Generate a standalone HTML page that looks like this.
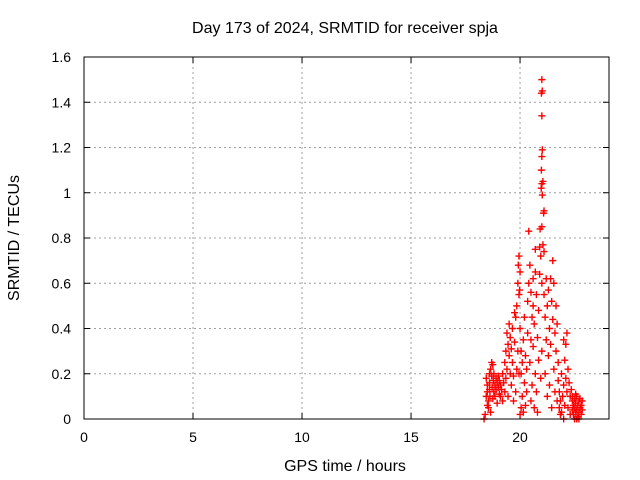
<!DOCTYPE html>
<html><head><meta charset="utf-8"><style>
body{margin:0;background:#fff}
svg{display:block;font-family:"Liberation Sans",sans-serif}
</style></head><body>
<svg id="chart" width="640" height="480" viewBox="0 0 640 480" xmlns="http://www.w3.org/2000/svg">
<rect width="640" height="480" fill="#fff"/>
<text x="345" y="33" font-size="16" text-anchor="middle">Day 173 of 2024, SRMTID for receiver spja</text>
<text transform="translate(19,238) rotate(-90)" font-size="16" text-anchor="middle">SRMTID / TECUs</text>
<text x="345" y="471" font-size="16" text-anchor="middle">GPS time / hours</text>
<g id="grid"></g>
<g id="ticks"></g>
<g id="points"></g>
<rect x="84" y="57" width="525" height="362" fill="none" stroke="#000" stroke-width="1"/>
</svg>
<script>
const xTicks=[0,5,10,15,20];
const yTicks=[0,0.2,0.4,0.6,0.8,1,1.2,1.4,1.6];
const yTickLabels=["0","0.2","0.4","0.6","0.8","1","1.2","1.4","1.6"];
const hours=[18.35,18.4,18.45,18.5,18.5,18.55,18.55,18.6,18.6,18.62,18.65,18.65,18.7,18.7,18.72,18.75,18.78,18.8,18.8,18.85,18.85,18.9,18.9,18.95,19.0,19.0,19.05,19.05,19.1,19.1,19.15,19.2,19.2,18.45,18.5,18.6,18.75,18.95,19.25,19.3,
19.3,19.35,19.35,19.4,19.4,19.45,19.45,19.5,19.5,19.55,19.55,19.6,19.6,19.65,19.65,19.7,19.7,19.75,19.75,19.8,19.8,19.85,19.85,
19.9,19.92,19.95,19.95,19.98,20.0,20.0,20.05,20.05,20.1,20.1,20.15,20.15,20.2,20.2,20.25,20.25,20.3,20.3,20.35,20.0,20.05,19.95,19.9,
20.35,20.4,20.4,20.45,20.45,20.5,20.5,20.55,20.55,20.6,20.6,20.65,20.65,20.7,20.7,20.75,20.75,20.8,20.8,20.85,20.85,20.9,20.9,20.95,20.95,21.0,21.0,20.7,20.6,20.5,
20.92,21.0,20.97,21.0,21.02,20.98,21.05,21.08,21.1,21.0,21.02,21.0,20.98,21.02,21.0,21.05,21.1,
21.1,21.15,21.15,21.2,21.2,21.25,21.25,21.3,21.3,21.35,21.35,21.4,21.4,21.45,21.45,21.5,21.5,21.55,21.55,21.6,21.6,21.65,21.65,21.7,21.7,21.75,21.75,
21.8,21.8,21.85,21.9,21.9,21.95,22.0,22.0,22.05,22.05,22.1,22.1,22.15,22.15,22.2,22.2,22.25,22.3,22.3,22.35,21.85,22.0,
22.4,22.4,22.45,22.45,22.5,22.5,22.55,22.55,22.6,22.6,22.65,22.65,22.7,22.7,22.75,22.75,22.8,22.8,22.85,22.85,22.5,22.6,22.7,22.4,22.55];
const tecu=[0.0,0.02,0.18,0.15,0.12,0.08,0.05,0.2,0.16,0.1,0.03,0.22,0.25,0.19,0.14,0.24,0.17,0.12,0.2,0.15,0.1,0.18,0.13,0.16,0.14,0.19,0.11,0.17,0.15,0.1,0.13,0.2,0.08,0.1,0.06,0.13,0.09,0.07,0.16,0.12,
0.25,0.3,0.18,0.38,0.22,0.33,0.1,0.28,0.42,0.36,0.2,0.15,0.31,0.25,0.4,0.19,0.08,0.34,0.47,0.45,0.12,0.22,0.5,
0.6,0.68,0.72,0.55,0.57,0.65,0.4,0.3,0.2,0.25,0.1,0.03,0.35,0.16,0.45,0.06,0.28,0.22,0.12,0.38,0.02,0.05,0.2,0.3,
0.52,0.6,0.83,0.68,0.25,0.56,0.08,0.45,0.15,0.62,0.32,0.05,0.42,0.75,0.2,0.55,0.12,0.36,0.03,0.48,0.26,0.76,0.64,0.72,0.18,0.6,0.3,0.65,0.5,0.35,
0.84,0.85,1.02,1.04,0.99,1.1,1.05,0.91,0.92,1.16,1.19,1.34,1.44,1.45,1.5,0.77,0.74,
0.55,0.45,0.2,0.62,0.35,0.1,0.5,0.28,0.57,0.4,0.15,0.62,0.33,0.52,0.05,0.7,0.44,0.6,0.22,0.38,0.12,0.3,0.5,0.42,0.08,0.25,0.17,
0.05,0.12,0.08,0.2,0.03,0.1,0.15,0.35,0.26,0.06,0.18,0.33,0.38,0.12,0.22,0.05,0.16,0.1,0.02,0.13,0.02,0.0,
0.08,0.04,0.06,0.02,0.09,0.05,0.03,0.07,0.1,0.04,0.06,0.01,0.08,0.03,0.05,0.09,0.02,0.06,0.04,0.08,0.0,0.0,0.0,0.1,0.11];
const X0=84,X1=609,Y0=419,Y1=57,XMAX=24.08,YMAX=1.6;
const xs=v=>X0+(X1-X0)*v/XMAX;
const ys=v=>Y0-(Y0-Y1)*v/YMAX;
const NS="http://www.w3.org/2000/svg";
const grid=document.getElementById('grid'),ticks=document.getElementById('ticks'),pts=document.getElementById('points');
function mk(tag,attrs,parent){const e=document.createElementNS(NS,tag);for(const k in attrs)e.setAttribute(k,attrs[k]);parent.appendChild(e);return e;}
xTicks.forEach(t=>{const x=xs(t);
 if(t>0){const g=mk('line',{x1:x,x2:x,y1:Y0,y2:Y1,stroke:'#a0a0a0','stroke-dasharray':'2,3'},grid);
 
 }
 mk('line',{x1:x,x2:x,y1:Y0,y2:Y0-6,stroke:'#000'},ticks);
 mk('line',{x1:x,x2:x,y1:Y1,y2:Y1+6,stroke:'#000'},ticks);
 const l=mk('text',{x:x,y:Y0+23,'font-size':14,'text-anchor':'middle'},ticks);l.textContent=t;
 
 
});
yTicks.forEach((t,i)=>{const y=ys(t);
 if(t>0&&t<YMAX){const g=mk('line',{x1:X0,x2:X1,y1:y,y2:y,stroke:'#a0a0a0','stroke-dasharray':'2,3'},grid);
 
 }
 mk('line',{x1:X0,x2:X0+6,y1:y,y2:y,stroke:'#000'},ticks);
 mk('line',{x1:X1,x2:X1-6,y1:y,y2:y,stroke:'#000'},ticks);
 const l=mk('text',{x:X0-13,y:y+5,'font-size':14,'text-anchor':'end'},ticks);l.textContent=yTickLabels[i];
 
 
});
hours.forEach((h,i)=>{const x=xs(h),y=ys(tecu[i]);
 const p=mk('path',{d:`M${x-3.5},${y}h7M${x},${y-3.5}v7`,stroke:'#ff0000','stroke-width':1.4,fill:'none'},pts);
 
 
});
</script>
</body></html>
